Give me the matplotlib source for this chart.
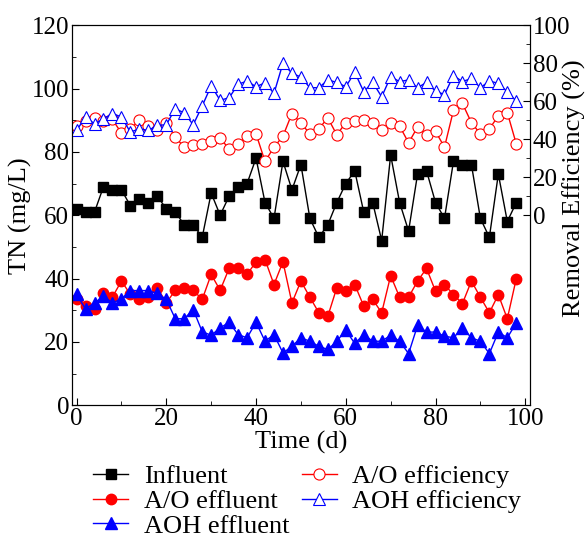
import matplotlib
matplotlib.use("Agg")
import matplotlib.pyplot as plt
from matplotlib.ticker import MultipleLocator

plt.rcParams['font.family'] = ['Liberation Serif', 'DejaVu Serif']
plt.rcParams['mathtext.fontset'] = 'stix'

days = list(range(0, 100, 2))

influent = [62, 61, 61, 69, 68, 68, 63, 65, 64, 66,
            62, 61, 57, 57, 53, 67, 60, 66, 69, 70,
            78, 64, 59, 77, 68, 76, 59, 53, 57, 64,
            70, 74, 61, 64, 52, 79, 64, 55, 73, 74,
            64, 59, 77, 76, 76, 59, 53, 73, 58, 64]

ao_effluent = [33.4, 31.3, 30.4, 35.3, 34.2, 39.2, 35.0, 33.4, 34.2, 37.1,
               32.3, 36.3, 37.1, 36.3, 33.4, 41.3, 36.3, 43.2, 43.2, 41.3,
               45.3, 46.0, 38.1, 45.3, 32.3, 39.2, 34.1, 29.2, 28.1, 37.1,
               36.2, 38.1, 31.3, 33.4, 29.2, 40.9, 34.1, 34.1, 39.2, 43.2,
               36.0, 38.1, 34.9, 32.1, 39.2, 34.1, 29.2, 34.9, 27.3, 40.0]

aoh_effluent = [35.0, 30.4, 32.3, 34.4, 32.3, 33.6, 36.2, 36.2, 36.2, 35.3,
                33.4, 27.3, 27.3, 30.2, 23.2, 22.1, 24.4, 26.2, 22.3, 21.3,
                26.2, 20.2, 22.3, 16.5, 18.6, 21.3, 20.2, 18.6, 17.6, 20.2,
                23.7, 19.5, 22.3, 20.2, 20.2, 22.1, 20.2, 16.3, 25.2, 23.1,
                23.1, 21.8, 21.3, 24.4, 21.3, 20.2, 16.3, 23.1, 21.3, 26.0]

ao_eff = [46.9, 49.4, 51.3, 49.4, 50.4, 43.2, 45.5, 49.9, 46.9, 44.6,
          48.7, 41.1, 35.8, 37.0, 37.5, 38.8, 40.5, 34.9, 37.5, 41.6,
          42.8, 28.3, 35.8, 41.6, 53.5, 48.5, 42.8, 45.5, 51.2, 42.3,
          48.7, 49.4, 49.9, 48.7, 45.0, 48.7, 46.9, 38.1, 46.4, 42.3,
          44.1, 35.8, 55.2, 58.8, 48.7, 42.8, 45.5, 52.2, 54.0, 37.5]

aoh_eff = [44.6, 51.7, 48.1, 50.8, 53.5, 51.7, 43.7, 45.5, 44.6, 47.3,
           47.6, 56.1, 53.8, 47.6, 57.5, 68.1, 60.5, 61.8, 68.9, 70.6,
           67.6, 69.7, 64.1, 80.0, 74.7, 72.7, 67.1, 67.1, 71.2, 69.9,
           67.6, 75.2, 65.0, 69.9, 62.3, 72.9, 70.3, 71.2, 67.1, 69.9,
           65.3, 63.5, 73.5, 70.3, 72.0, 67.1, 70.6, 69.4, 65.0, 60.0]

fig = plt.figure(figsize=(5.86, 5.36), dpi=100)
ax = fig.add_axes([0.123, 0.244, 0.781, 0.709])
ax2 = ax.twinx()

l1, = ax.plot(days, influent, color='black', marker='s', markersize=7, lw=1, label='Influent')
l2, = ax.plot(days, ao_effluent, color='red', marker='o', markersize=7.5, lw=1, label='A/O effluent')
l3, = ax.plot(days, aoh_effluent, color='blue', marker='^', markersize=8, lw=1, label='AOH effluent')
l4, = ax2.plot(days, ao_eff, color='red', marker='o', markersize=8, lw=1, mfc='white',
               mew=0.8, label='A/O efficiency')
l5, = ax2.plot(days, aoh_eff, color='blue', marker='^', markersize=8.5, lw=1, mfc='white',
               mew=0.8, label='AOH efficiency')

ax.set_xlim(-1, 101)
ax.set_ylim(0, 120)
ax2.set_ylim(-100, 100)
ax.xaxis.set_major_locator(MultipleLocator(20))
ax.xaxis.set_minor_locator(MultipleLocator(10))
ax.yaxis.set_major_locator(MultipleLocator(20))
ax.yaxis.set_minor_locator(MultipleLocator(10))
ax2.set_yticks([0, 20, 40, 60, 80, 100])
ax2.set_yticks(range(10, 100, 20), minor=True)

ax.tick_params(axis='both', which='both', direction='in', labelsize=18, top=False, pad=2)
ax.tick_params(which='major', length=5)
ax.tick_params(which='minor', length=3)
ax2.tick_params(which='both', direction='in', labelsize=18, pad=2)
ax2.tick_params(which='major', length=5)
ax2.tick_params(which='minor', length=3)

ax.set_xlabel('Time (d)', fontsize=19, labelpad=1)
ax.set_ylabel('TN (mg/L)', fontsize=19, labelpad=0)
ax2.set_ylabel('Removal Efficiency (%)', fontsize=19)
ax2.yaxis.set_label_coords(1.071, 0.57)

fig.legend(handles=[l1, l2, l3, l4, l5], ncol=2, loc='upper left',
           bbox_to_anchor=(0.137, 0.158), bbox_transform=fig.transFigure,
           frameon=False, fontsize=19, handlelength=1.3, handletextpad=0.6,
           labelspacing=0.05, columnspacing=0.5, borderpad=0)

fig.savefig('out.png', dpi=100)
